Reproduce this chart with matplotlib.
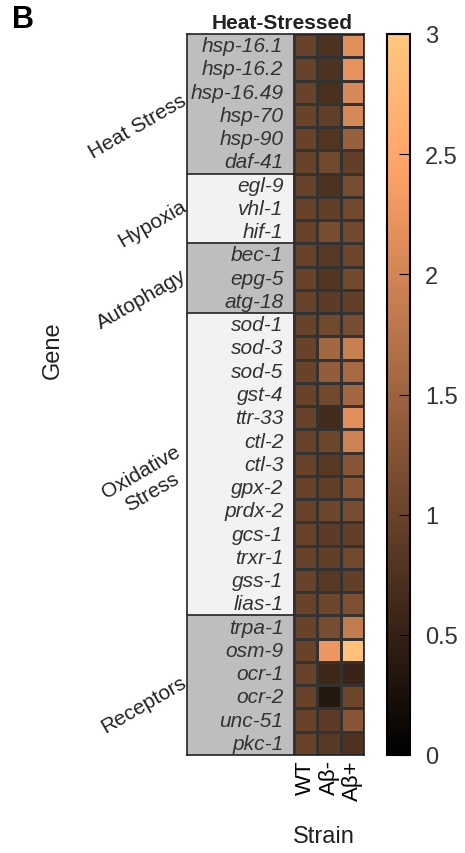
#!/usr/bin/env python3

import numpy as np
import matplotlib
matplotlib.use("Agg")
import matplotlib.pyplot as plt
from matplotlib.patches import Rectangle

# ------------------------------------------------------------------------
# Data:
# ------------------------------------------------------------------------

genes = [
  "hsp-16.1", "hsp-16.2", "hsp-16.49", "hsp-70", "hsp-90", "daf-41",
  "egl-9", "vhl-1", "hif-1",
  "bec-1", "epg-5", "atg-18",
  "sod-1", "sod-3", "sod-5", "gst-4", "ttr-33", "ctl-2", "ctl-3",
  "gpx-2", "prdx-2", "gcs-1", "trxr-1", "gss-1", "lias-1",
  "trpa-1", "osm-9", "ocr-1", "ocr-2", "unc-51", "pkc-1",
]

groups = ["Heat Stress", "Hypoxia", "Autophagy", "Oxidative\nStress", "Receptors"]
group_sizes = [6, 3, 3, 13, 6]

strains = ["WT", "Aβ-", "Aβ+"]

wt = [1.0] * 31

ab_minus = [
  0.75, 0.75, 0.72, 0.95, 0.80, 1.10,
  0.75, 0.95, 1.15,
  0.85, 0.80, 0.90,
  1.10, 1.55, 1.40, 1.10, 0.65, 1.05, 0.85,
  0.95, 1.05, 0.90, 0.95, 0.85, 1.05,
  1.15, 2.25, 0.60, 0.35, 0.90, 0.85,
]

ab_plus = [
  2.15, 2.20, 2.05, 2.05, 1.45, 0.95,
  1.15, 1.10, 1.10,
  1.05, 1.10, 0.95,
  1.15, 1.90, 1.60, 1.55, 2.15, 1.95, 1.30,
  1.30, 1.15, 0.95, 1.10, 0.95, 1.20,
  1.85, 2.90, 0.55, 1.05, 1.30, 0.75,
]

# ------------------------------------------------------------------------
# Plot:
# ------------------------------------------------------------------------

if __name__ == '__main__':

  plt.rcParams["font.family"] = ["Liberation Sans", "DejaVu Sans"]

  W, H = 465, 854
  fig = plt.figure(figsize=(W / 100, H / 100), dpi=100, facecolor="w")

  def fx(px):
    return px / W

  def fy(py):
    return 1 - py / H

  top, bottom = 35, 756
  box_left, heat_left, heat_right = 187, 294, 364
  col_w = (heat_right - heat_left) / 3.0
  label_w = (heat_left - box_left) / col_w

  ax = fig.add_axes([fx(box_left), fy(bottom), fx(heat_right - box_left), (bottom - top) / H])

  data = np.array([wt, ab_minus, ab_plus]).T
  n = len(genes)

  # group backgrounds
  start = 0
  for i, size in enumerate(group_sizes):
    shade = "#bebebe" if i % 2 == 0 else "#f2f2f2"
    ax.add_patch(Rectangle((-label_w, start), label_w, size, facecolor=shade,
                           edgecolor="none", zorder=0))
    if start > 0:
      ax.plot([-label_w, 0], [start, start], color="#222222", lw=1.2, zorder=2)
    start += size

  mesh = ax.pcolormesh(np.arange(4), np.arange(n + 1), data, cmap="copper",
                       vmin=0, vmax=3, edgecolors="#333333", linewidth=0.9, zorder=1)

  ax.set_xlim(-label_w, 3)
  ax.set_ylim(n, 0)

  for i, g in enumerate(genes):
    ax.text(-0.45, i + 0.5, g, ha="right", va="center", style="italic",
            fontsize=15, color="#333333")

  ax.set_xticks(np.arange(3) + 0.5)
  ax.set_xticklabels(strains, rotation=90, fontsize=16, va="top")
  ax.set_yticks([])
  ax.tick_params(axis="x", length=0, pad=3)
  for s in ax.spines.values():
    s.set_color("#222222")
    s.set_linewidth(1.2)

  ax.set_title("Heat-Stressed", fontsize=15, fontweight="bold", x=0.54, pad=4,
               color="#222222")

  # group labels
  start = 0
  for g, size in zip(groups, group_sizes):
    mid = start + size / 2.0
    ax.text(-label_w - 0.1, mid - 0.2, g, ha="right", va="center", rotation=30,
            rotation_mode="anchor", multialignment="center", fontsize=15,
            color="#222222", clip_on=False)
    start += size

  fig.text(fx(53), fy(350), "Gene", rotation=90, ha="center", va="center", fontsize=17,
           color="#222222")
  fig.text(fx(324), fy(837), "Strain", ha="center", va="center", fontsize=17,
           color="#222222")
  fig.text(fx(12), fy(20), "B", ha="left", va="center", fontsize=22, fontweight="bold")

  cax = fig.add_axes([fx(387), fy(bottom), fx(410 - 387), (bottom - top) / H])
  cb = fig.colorbar(mesh, cax=cax, ticks=np.arange(0, 3.01, 0.5))
  cb.ax.set_yticklabels(["0", "0.5", "1", "1.5", "2", "2.5", "3"])
  cb.ax.tick_params(direction="in", length=8, width=0.8, labelsize=17, pad=11,
                    labelcolor="#333333")
  cb.outline.set_linewidth(1.5)

  fig.savefig("out.png", dpi=100)
